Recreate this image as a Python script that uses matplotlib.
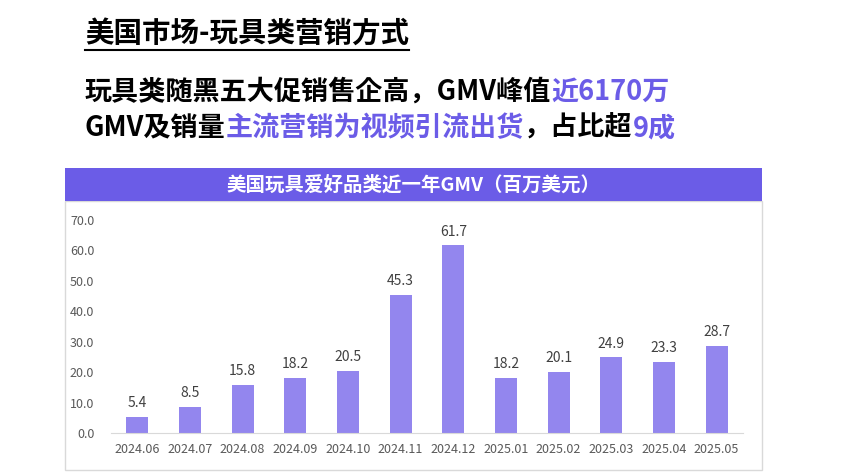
import matplotlib
matplotlib.use("Agg")
import matplotlib.pyplot as plt
from matplotlib.patches import Rectangle

months = ["2024.06","2024.07","2024.08","2024.09","2024.10","2024.11","2024.12",
          "2025.01","2025.02","2025.03","2025.04","2025.05"]
gmv = [5.4, 8.5, 15.8, 18.2, 20.5, 45.3, 61.7, 18.2, 20.1, 24.9, 23.3, 28.7]
yticks = [0, 10, 20, 30, 40, 50, 60, 70]

plt.rcParams["font.family"] = ["Noto Sans CJK SC", "Noto Sans CJK JP", "Noto Sans CJK TC", "DejaVu Sans"]
PURPLE = "#6B5CE7"
BAR = "#9386EE"

fig = plt.figure(figsize=(8.49, 4.76), dpi=100)
W, H = 849, 476

def rich(parts, x, y, size):
    fig.canvas.draw()
    r = fig.canvas.get_renderer()
    for s, c in parts:
        t = fig.text(x / W, 1 - y / H, s, color=c, fontsize=size, fontweight="bold", va="center", ha="left")
        x += t.get_window_extent(r).width

t = fig.text(85 / W, 1 - 34 / H, "美国市场-玩具类营销方式", fontsize=20.5, fontweight="bold", va="center", color="black")
fig.canvas.draw()
bb = t.get_window_extent(fig.canvas.get_renderer())
fig.add_artist(plt.Line2D([bb.x0 / W, bb.x1 / W], [1 - 50 / H] * 2, color="black", lw=1.5))

rich([("玩具类随黑五大促销售企高，GMV峰值", "black"), ("近6170万", PURPLE)], 85, 92, 19.5)
rich([("GMV及销量", "black"), ("主流营销为视频引流出货", PURPLE), ("，占比超", "black"), ("9成", PURPLE)], 85, 128, 19.5)

fig.add_artist(Rectangle((65 / W, 1 - 470 / H), 697 / W, 269 / H, transform=fig.transFigure,
                         fill=False, edgecolor="#D9D9D9", lw=1))
fig.add_artist(Rectangle((65 / W, 1 - 201 / H), 697 / W, 33 / H, transform=fig.transFigure,
                         color=PURPLE, lw=0))
fig.text(413 / W, 1 - 185 / H, "美国玩具爱好品类近一年GMV（百万美元）", color="white",
         fontsize=14, fontweight="bold", ha="center", va="center")

ax = fig.add_axes([111 / W, 1 - 433 / H, 632 / W, 213 / H])
x = range(len(months))
ax.bar(x, gmv, width=0.42, color=BAR)
for i, v in zip(x, gmv):
    ax.text(i, v + 2.2, f"{v:.1f}", ha="center", va="bottom", fontsize=10, color="#404040")
ax.set_xlim(-0.5, len(months) - 0.5)
ax.set_ylim(0, 70)
ax.set_yticks(yticks)
ax.set_yticklabels([f"{v:.1f}" for v in yticks], fontsize=9, color="#595959")
ax.set_xticks(list(x))
ax.set_xticklabels(months, fontsize=9, color="#595959")
ax.tick_params(length=0, pad=7)
ax.tick_params(axis="y", pad=12)
for s in ["top", "right", "left"]:
    ax.spines[s].set_visible(False)
ax.spines["bottom"].set_color("#D9D9D9")
ax.patch.set_alpha(0)

fig.savefig("out.png", dpi=100)
